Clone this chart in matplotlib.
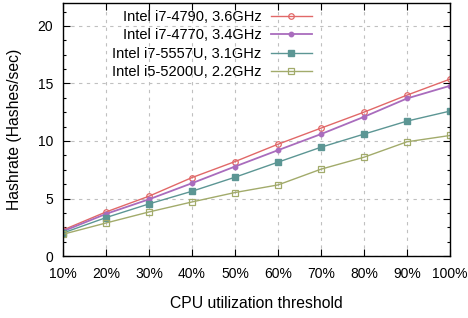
import matplotlib
matplotlib.use("Agg")
import matplotlib.pyplot as plt
from matplotlib.ticker import AutoMinorLocator, MultipleLocator

# values
thresholds = ["10%", "20%", "30%", "40%", "50%", "60%", "70%", "80%", "90%", "100%"]
i7_4790 = [2.26, 3.83, 5.2, 6.82, 8.21, 9.72, 11.12, 12.51, 13.99, 15.38]
i7_4770 = [2.15, 3.66, 4.93, 6.33, 7.78, 9.2, 10.6, 12.1, 13.7, 14.8]
i7_5557u = [2.0, 3.34, 4.53, 5.63, 6.85, 8.16, 9.46, 10.6, 11.73, 12.6]
i5_5200u = [1.89, 2.87, 3.83, 4.7, 5.52, 6.18, 7.55, 8.59, 9.93, 10.48]

plt.rcParams['font.family'] = ['Liberation Sans', 'DejaVu Sans']
plt.rcParams['font.size'] = 10

fig = plt.figure(figsize=(4.68, 3.18), dpi=100)
ax = fig.add_axes([63 / 468, 62 / 318, 387 / 468, 253 / 318])

x = list(range(len(thresholds)))
ax.plot(x, i7_4790, color="#e16868", lw=1.0, marker="o", ms=4, mfc="none",
        mew=0.9, label="Intel i7-4790, 3.6GHz")
ax.plot(x, i7_4770, color="#a96cbd", lw=1.3, marker="o", ms=3.2,
        label="Intel i7-4770, 3.4GHz")
ax.plot(x, i7_5557u, color="#5c9694", lw=1.0, marker="s", ms=4.2,
        label="Intel i7-5557U, 3.1GHz")
ax.plot(x, i5_5200u, color="#a2ab6b", lw=1.0, marker="s", ms=4, mfc="none",
        mew=0.9, label="Intel i5-5200U, 2.2GHz")

ax.set_xlim(0, len(thresholds) - 1)
ax.set_ylim(0, 22)
ax.set_xticks(x)
ax.set_xticklabels(thresholds)
ax.yaxis.set_major_locator(MultipleLocator(5))
ax.yaxis.set_minor_locator(AutoMinorLocator(4))

ax.tick_params(which="both", direction="in", top=True, right=True, labelsize=10)
ax.tick_params(which="major", length=5, width=0.8)
ax.tick_params(which="minor", length=2.5, width=0.8)
ax.tick_params(axis="x", pad=8)
ax.tick_params(axis="y", pad=7)
ax.grid(True, which="major", color="#c0c0c0", linestyle=(0, (3, 4)), lw=0.8)
for s in ax.spines.values():
    s.set_linewidth(1.0)

ax.set_xlabel("CPU utilization threshold", fontsize=11.3, labelpad=11)
ax.set_ylabel("Hashrate (Hashes/sec)", fontsize=11.3, labelpad=11)

ax.legend(loc="upper right", bbox_to_anchor=(0.643, 0.972), frameon=False,
          markerfirst=False, handlelength=2.8, handletextpad=0.65,
          labelspacing=0.3, borderpad=0, borderaxespad=0, fontsize=10.5)

fig.savefig("out.png", dpi=100)
